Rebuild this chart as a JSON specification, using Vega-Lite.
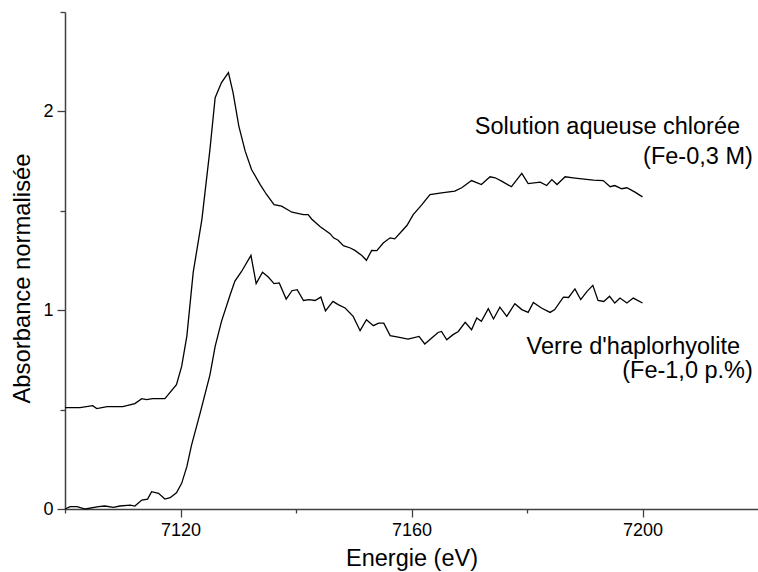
{
  "$schema": "https://vega.github.io/schema/vega-lite/v6.json",
  "width": 693,
  "height": 497,
  "autosize": {"type": "none"},
  "padding": {"left": 65, "top": 12, "right": 0, "bottom": 63},
  "background": "white",
  "config": {"view": {"stroke": null}, "font": "Liberation Sans"},
  "datasets": {
    "spectres": [
      {"serie": "Solution", "E": 7100.0, "A": 0.51},
      {"serie": "Solution", "E": 7102.6, "A": 0.51},
      {"serie": "Solution", "E": 7104.8, "A": 0.52},
      {"serie": "Solution", "E": 7105.5, "A": 0.505},
      {"serie": "Solution", "E": 7107.3, "A": 0.515},
      {"serie": "Solution", "E": 7110.0, "A": 0.515},
      {"serie": "Solution", "E": 7112.1, "A": 0.53},
      {"serie": "Solution", "E": 7113.3, "A": 0.555},
      {"serie": "Solution", "E": 7114.1, "A": 0.55},
      {"serie": "Solution", "E": 7115.2, "A": 0.555},
      {"serie": "Solution", "E": 7117.3, "A": 0.555},
      {"serie": "Solution", "E": 7119.3, "A": 0.625},
      {"serie": "Solution", "E": 7120.2, "A": 0.717},
      {"serie": "Solution", "E": 7121.1, "A": 0.87},
      {"serie": "Solution", "E": 7122.2, "A": 1.19},
      {"serie": "Solution", "E": 7123.7, "A": 1.456},
      {"serie": "Solution", "E": 7125.1, "A": 1.809},
      {"serie": "Solution", "E": 7126.0, "A": 2.069},
      {"serie": "Solution", "E": 7127.1, "A": 2.145},
      {"serie": "Solution", "E": 7128.3, "A": 2.195},
      {"serie": "Solution", "E": 7129.1, "A": 2.094},
      {"serie": "Solution", "E": 7130.1, "A": 1.926},
      {"serie": "Solution", "E": 7131.2, "A": 1.80},
      {"serie": "Solution", "E": 7132.3, "A": 1.708},
      {"serie": "Solution", "E": 7133.8, "A": 1.632},
      {"serie": "Solution", "E": 7134.9, "A": 1.582},
      {"serie": "Solution", "E": 7136.2, "A": 1.531},
      {"serie": "Solution", "E": 7137.5, "A": 1.523},
      {"serie": "Solution", "E": 7139.3, "A": 1.493},
      {"serie": "Solution", "E": 7141.3, "A": 1.481},
      {"serie": "Solution", "E": 7142.1, "A": 1.481},
      {"serie": "Solution", "E": 7142.7, "A": 1.459},
      {"serie": "Solution", "E": 7144.2, "A": 1.42},
      {"serie": "Solution", "E": 7145.9, "A": 1.385},
      {"serie": "Solution", "E": 7146.5, "A": 1.364},
      {"serie": "Solution", "E": 7147.3, "A": 1.352},
      {"serie": "Solution", "E": 7148.2, "A": 1.325},
      {"serie": "Solution", "E": 7149.4, "A": 1.313},
      {"serie": "Solution", "E": 7150.2, "A": 1.301},
      {"serie": "Solution", "E": 7151.4, "A": 1.275},
      {"serie": "Solution", "E": 7152.2, "A": 1.251},
      {"serie": "Solution", "E": 7153.1, "A": 1.301},
      {"serie": "Solution", "E": 7154.0, "A": 1.30},
      {"serie": "Solution", "E": 7155.1, "A": 1.338},
      {"serie": "Solution", "E": 7156.3, "A": 1.364},
      {"serie": "Solution", "E": 7157.1, "A": 1.359},
      {"serie": "Solution", "E": 7158.3, "A": 1.397},
      {"serie": "Solution", "E": 7159.2, "A": 1.426},
      {"serie": "Solution", "E": 7160.3, "A": 1.481},
      {"serie": "Solution", "E": 7161.8, "A": 1.531},
      {"serie": "Solution", "E": 7163.2, "A": 1.582},
      {"serie": "Solution", "E": 7165.2, "A": 1.59},
      {"serie": "Solution", "E": 7167.5, "A": 1.599},
      {"serie": "Solution", "E": 7168.7, "A": 1.616},
      {"serie": "Solution", "E": 7170.4, "A": 1.652},
      {"serie": "Solution", "E": 7172.1, "A": 1.632},
      {"serie": "Solution", "E": 7173.6, "A": 1.671},
      {"serie": "Solution", "E": 7174.5, "A": 1.666},
      {"serie": "Solution", "E": 7175.6, "A": 1.649},
      {"serie": "Solution", "E": 7177.3, "A": 1.621},
      {"serie": "Solution", "E": 7179.1, "A": 1.688},
      {"serie": "Solution", "E": 7180.2, "A": 1.637},
      {"serie": "Solution", "E": 7182.3, "A": 1.644},
      {"serie": "Solution", "E": 7183.4, "A": 1.627},
      {"serie": "Solution", "E": 7184.3, "A": 1.657},
      {"serie": "Solution", "E": 7185.2, "A": 1.632},
      {"serie": "Solution", "E": 7186.6, "A": 1.671},
      {"serie": "Solution", "E": 7188.0, "A": 1.666},
      {"serie": "Solution", "E": 7189.5, "A": 1.661},
      {"serie": "Solution", "E": 7191.5, "A": 1.654},
      {"serie": "Solution", "E": 7193.2, "A": 1.652},
      {"serie": "Solution", "E": 7194.4, "A": 1.621},
      {"serie": "Solution", "E": 7195.2, "A": 1.627},
      {"serie": "Solution", "E": 7196.4, "A": 1.611},
      {"serie": "Solution", "E": 7197.3, "A": 1.616},
      {"serie": "Solution", "E": 7198.7, "A": 1.594},
      {"serie": "Solution", "E": 7200.0, "A": 1.57},
      {"serie": "Verre", "E": 7100.0, "A": 0.0},
      {"serie": "Verre", "E": 7100.9, "A": 0.012},
      {"serie": "Verre", "E": 7102.1, "A": 0.012},
      {"serie": "Verre", "E": 7103.5, "A": 0.0},
      {"serie": "Verre", "E": 7105.8, "A": 0.012},
      {"serie": "Verre", "E": 7106.9, "A": 0.015},
      {"serie": "Verre", "E": 7108.4, "A": 0.008},
      {"serie": "Verre", "E": 7109.5, "A": 0.015},
      {"serie": "Verre", "E": 7111.3, "A": 0.019},
      {"serie": "Verre", "E": 7112.1, "A": 0.015},
      {"serie": "Verre", "E": 7113.3, "A": 0.045},
      {"serie": "Verre", "E": 7114.3, "A": 0.05},
      {"serie": "Verre", "E": 7115.0, "A": 0.087},
      {"serie": "Verre", "E": 7116.2, "A": 0.079},
      {"serie": "Verre", "E": 7117.3, "A": 0.05},
      {"serie": "Verre", "E": 7118.2, "A": 0.057},
      {"serie": "Verre", "E": 7119.3, "A": 0.082},
      {"serie": "Verre", "E": 7120.2, "A": 0.129},
      {"serie": "Verre", "E": 7121.1, "A": 0.213},
      {"serie": "Verre", "E": 7121.9, "A": 0.32},
      {"serie": "Verre", "E": 7123.4, "A": 0.482},
      {"serie": "Verre", "E": 7125.1, "A": 0.675},
      {"serie": "Verre", "E": 7126.0, "A": 0.818},
      {"serie": "Verre", "E": 7127.1, "A": 0.944},
      {"serie": "Verre", "E": 7128.6, "A": 1.078},
      {"serie": "Verre", "E": 7129.4, "A": 1.145},
      {"serie": "Verre", "E": 7130.6, "A": 1.196},
      {"serie": "Verre", "E": 7132.2, "A": 1.276},
      {"serie": "Verre", "E": 7133.1, "A": 1.134},
      {"serie": "Verre", "E": 7134.2, "A": 1.191},
      {"serie": "Verre", "E": 7135.2, "A": 1.167},
      {"serie": "Verre", "E": 7136.2, "A": 1.134},
      {"serie": "Verre", "E": 7137.1, "A": 1.137},
      {"serie": "Verre", "E": 7138.3, "A": 1.056},
      {"serie": "Verre", "E": 7139.3, "A": 1.098},
      {"serie": "Verre", "E": 7140.2, "A": 1.103},
      {"serie": "Verre", "E": 7141.3, "A": 1.049},
      {"serie": "Verre", "E": 7142.3, "A": 1.053},
      {"serie": "Verre", "E": 7143.3, "A": 1.049},
      {"serie": "Verre", "E": 7144.3, "A": 1.066},
      {"serie": "Verre", "E": 7145.1, "A": 0.997},
      {"serie": "Verre", "E": 7146.4, "A": 1.044},
      {"serie": "Verre", "E": 7147.3, "A": 1.028},
      {"serie": "Verre", "E": 7148.5, "A": 1.011},
      {"serie": "Verre", "E": 7149.9, "A": 0.969},
      {"serie": "Verre", "E": 7151.1, "A": 0.897},
      {"serie": "Verre", "E": 7152.2, "A": 0.952},
      {"serie": "Verre", "E": 7153.4, "A": 0.922},
      {"serie": "Verre", "E": 7154.3, "A": 0.935},
      {"serie": "Verre", "E": 7155.2, "A": 0.935},
      {"serie": "Verre", "E": 7156.3, "A": 0.872},
      {"serie": "Verre", "E": 7157.7, "A": 0.865},
      {"serie": "Verre", "E": 7159.4, "A": 0.855},
      {"serie": "Verre", "E": 7161.3, "A": 0.868},
      {"serie": "Verre", "E": 7162.3, "A": 0.83},
      {"serie": "Verre", "E": 7163.5, "A": 0.86},
      {"serie": "Verre", "E": 7164.6, "A": 0.888},
      {"serie": "Verre", "E": 7165.2, "A": 0.893},
      {"serie": "Verre", "E": 7166.1, "A": 0.851},
      {"serie": "Verre", "E": 7167.2, "A": 0.877},
      {"serie": "Verre", "E": 7168.1, "A": 0.893},
      {"serie": "Verre", "E": 7169.3, "A": 0.939},
      {"serie": "Verre", "E": 7170.4, "A": 0.902},
      {"serie": "Verre", "E": 7171.3, "A": 0.961},
      {"serie": "Verre", "E": 7172.1, "A": 0.944},
      {"serie": "Verre", "E": 7173.3, "A": 1.008},
      {"serie": "Verre", "E": 7174.2, "A": 0.956},
      {"serie": "Verre", "E": 7175.3, "A": 1.015},
      {"serie": "Verre", "E": 7176.5, "A": 0.969},
      {"serie": "Verre", "E": 7177.9, "A": 1.033},
      {"serie": "Verre", "E": 7179.1, "A": 1.003},
      {"serie": "Verre", "E": 7180.2, "A": 0.989},
      {"serie": "Verre", "E": 7181.1, "A": 1.039},
      {"serie": "Verre", "E": 7182.5, "A": 1.011},
      {"serie": "Verre", "E": 7184.0, "A": 0.989},
      {"serie": "Verre", "E": 7184.8, "A": 1.003},
      {"serie": "Verre", "E": 7186.3, "A": 1.066},
      {"serie": "Verre", "E": 7187.2, "A": 1.064},
      {"serie": "Verre", "E": 7188.3, "A": 1.107},
      {"serie": "Verre", "E": 7189.3, "A": 1.053},
      {"serie": "Verre", "E": 7190.4, "A": 1.095},
      {"serie": "Verre", "E": 7191.4, "A": 1.125},
      {"serie": "Verre", "E": 7192.3, "A": 1.049},
      {"serie": "Verre", "E": 7193.3, "A": 1.044},
      {"serie": "Verre", "E": 7194.3, "A": 1.07},
      {"serie": "Verre", "E": 7195.2, "A": 1.036},
      {"serie": "Verre", "E": 7196.1, "A": 1.061},
      {"serie": "Verre", "E": 7197.3, "A": 1.036},
      {"serie": "Verre", "E": 7198.4, "A": 1.061},
      {"serie": "Verre", "E": 7200.0, "A": 1.036}
    ],
    "etiquettes": [
      {"E": 7216.9, "A": 1.924, "texte": "Solution aqueuse chlorée"},
      {"E": 7219.1, "A": 1.773, "texte": "(Fe-0,3 M)"},
      {"E": 7216.9, "A": 0.815, "texte": "Verre d'haplorhyolite"},
      {"E": 7219.1, "A": 0.695, "texte": "(Fe-1,0 p.%)"}
    ]
  },
  "encoding": {
    "x": {
      "field": "E",
      "type": "quantitative",
      "scale": {"domain": [7100, 7220], "nice": false, "zero": false},
      "axis": {
        "title": "Energie (eV)",
        "values": [7100, 7120, 7140, 7160, 7180, 7200],
        "format": "d",
        "labelExpr": "datum.value % 40 === 0 ? datum.label : ''",
        "grid": false,
        "domainColor": "#404040",
        "domainWidth": 1.5,
        "tickColor": "#404040",
        "tickWidth": 1.3,
        "tickSize": {"condition": {"test": "datum.value % 40 === 0", "value": 8}, "value": 4},
        "labelFontSize": 18,
        "labelColor": "black",
        "labelPadding": 4,
        "labelFlush": false,
        "titleFontSize": 23.5,
        "titleFontWeight": "normal",
        "titleColor": "black",
        "titlePadding": 7
      }
    },
    "y": {
      "field": "A",
      "type": "quantitative",
      "scale": {"domain": [0, 2.5], "nice": false, "zero": false},
      "axis": {
        "title": "Absorbance normalisée",
        "values": [0, 0.5, 1, 1.5, 2, 2.5],
        "labelExpr": "datum.value % 1 === 0 ? format(datum.value, 'd') : ''",
        "grid": false,
        "domainColor": "#404040",
        "domainWidth": 1.5,
        "tickColor": "#404040",
        "tickWidth": 1.3,
        "tickSize": {"condition": {"test": "datum.value % 1 === 0", "value": 8}, "value": 5},
        "labelFontSize": 18,
        "labelColor": "black",
        "labelPadding": 4,
        "labelFlush": false,
        "titleFontSize": 23.8,
        "titleFontWeight": "normal",
        "titleColor": "black",
        "titlePadding": 8,
        "titleY": 266
      }
    }
  },
  "layer": [
    {
      "data": {"name": "spectres"},
      "mark": {"type": "line", "color": "black", "strokeWidth": 1.3},
      "encoding": {"detail": {"field": "serie", "type": "nominal"}}
    },
    {
      "data": {"name": "etiquettes"},
      "mark": {"type": "text", "align": "right", "baseline": "middle", "fontSize": 23.5, "color": "black"},
      "encoding": {"text": {"field": "texte", "type": "nominal"}}
    }
  ]
}
